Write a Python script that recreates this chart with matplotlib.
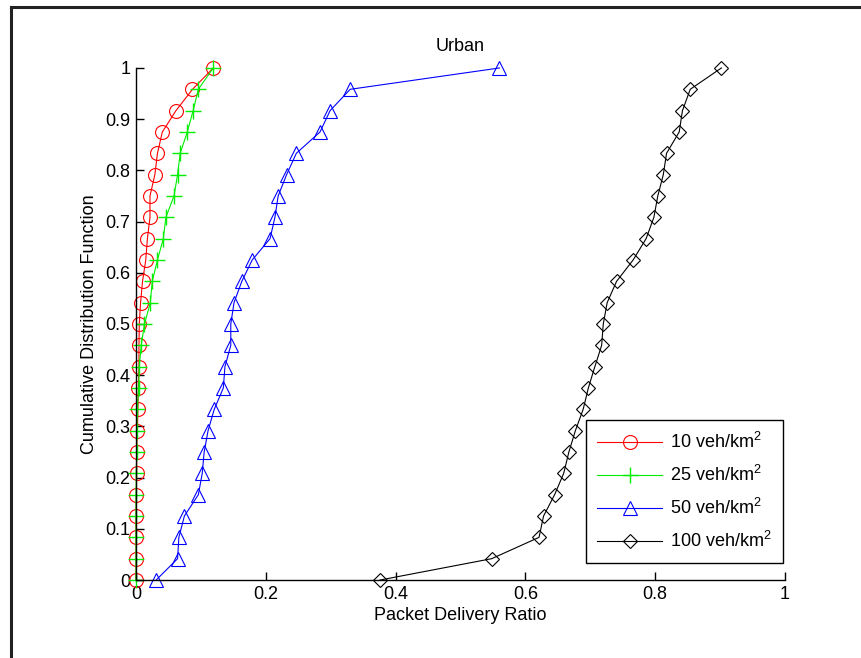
import matplotlib
matplotlib.use("Agg")
import matplotlib.pyplot as plt
from matplotlib.lines import Line2D
import numpy as np

plt.rcParams['font.family'] = ['Liberation Sans', 'DejaVu Sans']
plt.rcParams['mathtext.fontset'] = 'custom'
plt.rcParams['mathtext.rm'] = 'Liberation Sans'
plt.rcParams['mathtext.default'] = 'regular'

# CDF levels: 25 points, step 1/24
cdf = np.arange(25) / 24.0

pdr_10 = [0.0, 0.0, 0.0, 0.0, 0.0005, 0.001, 0.001, 0.002, 0.003, 0.0035,
          0.0045, 0.0045, 0.005, 0.007, 0.010, 0.015, 0.0175, 0.0215, 0.0215,
          0.029, 0.033, 0.0405, 0.0615, 0.087, 0.119]
pdr_25 = [0.0, 0.0, 0.0, 0.0, 0.0, 0.0005, 0.001, 0.001, 0.002, 0.004,
          0.005, 0.008, 0.013, 0.022, 0.025, 0.033, 0.042, 0.046, 0.0585,
          0.064, 0.068, 0.079, 0.088, 0.096, 0.119]
pdr_50 = [0.031, 0.064, 0.066, 0.0745, 0.096, 0.102, 0.105, 0.111, 0.1205,
          0.1345, 0.137, 0.146, 0.146, 0.151, 0.163, 0.179, 0.2065, 0.214,
          0.219, 0.232, 0.247, 0.2835, 0.299, 0.33, 0.560]
pdr_100 = [0.376, 0.548, 0.621, 0.628, 0.645, 0.659, 0.667, 0.677, 0.689,
           0.697, 0.707, 0.7175, 0.720, 0.726, 0.7405, 0.766, 0.786, 0.798,
           0.804, 0.8125, 0.8175, 0.837, 0.842, 0.854, 0.902]

labels = ['10 veh/km$^2$', '25 veh/km$^2$', '50 veh/km$^2$', '100 veh/km$^2$']

fs = 13

fig = plt.figure(figsize=(8.61, 6.58), dpi=100)
ax = fig.add_axes([0.158, 0.1185, 0.7537, 0.7782])

ax.plot(pdr_10, cdf, color='red', lw=0.8, marker='o', ms=10, mfc='none',
        mew=0.8, label=labels[0], clip_on=False)
ax.plot(pdr_25, cdf, color='#00ee00', lw=0.8, marker='+', ms=12,
        mew=1.0, label=labels[1], clip_on=False)
ax.plot(pdr_50, cdf, color='blue', lw=0.8, marker='^', ms=10, mfc='none',
        mew=0.8, label=labels[2], clip_on=False)
ax.plot(pdr_100, cdf, color='black', lw=0.8, marker='D', ms=7.5, mfc='none',
        mew=0.8, label=labels[3], clip_on=False)

ax.set_xlim(0, 1)
ax.set_ylim(0, 1)
ax.set_xticks(np.arange(0, 1.01, 0.2))
ax.set_xticklabels(['0', '0.2', '0.4', '0.6', '0.8', '1'])
ax.set_yticks(np.arange(0, 1.01, 0.1))
ax.set_yticklabels(['0', '0.1', '0.2', '0.3', '0.4', '0.5', '0.6', '0.7',
                    '0.8', '0.9', '1'])
ax.tick_params(direction='in', length=6, width=1, labelsize=fs, pad=4)
ax.spines['top'].set_visible(False)
ax.spines['right'].set_visible(False)
for s in ('left', 'bottom'):
    ax.spines[s].set_linewidth(1)

ax.set_xlabel('Packet Delivery Ratio', fontsize=fs, labelpad=3)
ax.set_ylabel('Cumulative Distribution Function', fontsize=fs, labelpad=5)
ax.set_title('Urban', fontsize=fs, pad=12)

leg = ax.legend(loc='lower right', bbox_to_anchor=(0.997, 0.033),
                borderaxespad=0, fontsize=fs, handlelength=3.6,
                fancybox=False, edgecolor='black', framealpha=1,
                labelspacing=0.72, borderpad=0.65, handletextpad=0.4)
leg.get_frame().set_linewidth(1)

# outer frame of the original page snippet
fig.add_artist(Line2D([0.013, 0.013], [0.0, 0.989], color='#222222', lw=2.2,
                      transform=fig.transFigure))
fig.add_artist(Line2D([0.013, 1.0], [0.989, 0.989], color='#222222', lw=2.2,
                      transform=fig.transFigure))

fig.savefig('out.png', dpi=100)
